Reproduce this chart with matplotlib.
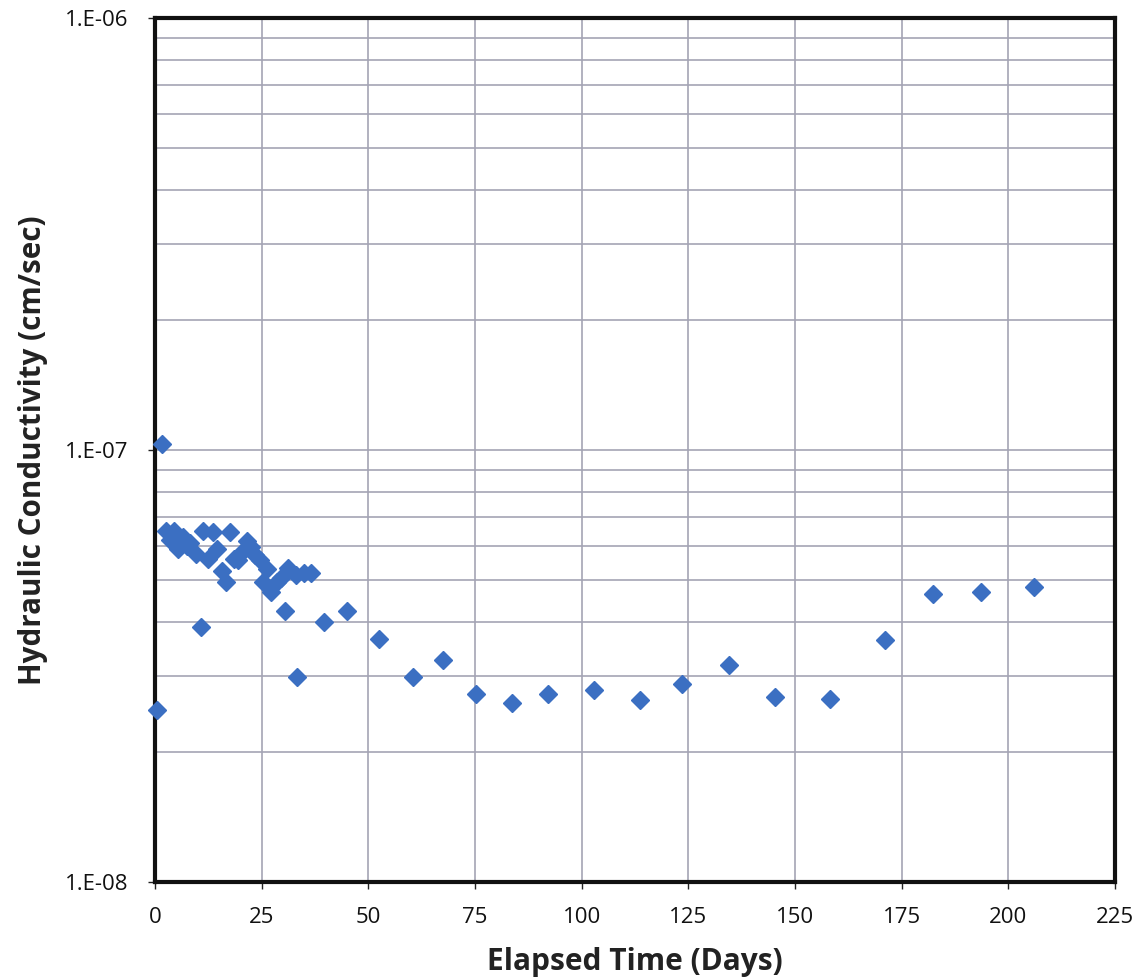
import matplotlib
matplotlib.use("Agg")
import matplotlib.pyplot as plt
from matplotlib.ticker import FixedLocator, LogLocator, NullFormatter
import numpy as np

days = [0.4, 1.6, 2.5, 3.5, 4.5, 5.5, 6.6, 7.5, 8.3, 9.5, 10.7, 11.3, 12.4, 13.5,
        14.6, 15.6, 16.6, 17.5, 18.5, 19.5, 20.5, 21.5, 22.5, 23.5, 24.5, 25.3,
        26.3, 27.3, 28.5, 29.6, 30.4, 31.1, 33.1, 33.3, 35.0, 36.6, 39.7, 44.9,
        52.6, 60.4, 67.4, 75.3, 83.7, 92.1, 102.8, 113.7, 123.6, 134.5, 145.4,
        158.3, 171.1, 182.4, 193.7, 206.0]
conductivity = [2.5e-8, 1.03e-7, 6.5e-8, 6.2e-8, 6.5e-8, 5.9e-8, 6.3e-8, 6.0e-8,
                6.1e-8, 5.75e-8, 3.9e-8, 6.5e-8, 5.6e-8, 6.45e-8, 5.9e-8, 5.25e-8,
                4.95e-8, 6.45e-8, 5.6e-8, 5.55e-8, 5.8e-8, 6.15e-8, 5.95e-8, 5.7e-8,
                5.55e-8, 4.95e-8, 5.3e-8, 4.7e-8, 4.95e-8, 5.05e-8, 4.23e-8, 5.33e-8,
                5.15e-8, 2.99e-8, 5.2e-8, 5.19e-8, 4.0e-8, 4.25e-8, 3.66e-8, 2.99e-8,
                3.26e-8, 2.72e-8, 2.59e-8, 2.72e-8, 2.78e-8, 2.64e-8, 2.87e-8, 3.18e-8,
                2.68e-8, 2.65e-8, 3.64e-8, 4.65e-8, 4.69e-8, 4.83e-8]

x_ticks = [0, 25, 50, 75, 100, 125, 150, 175, 200, 225]
y_ticks = [1e-8, 1e-7, 1e-6]
y_tick_labels = ["1.E-08", "1.E-07", "1.E-06"]
x_label = "Elapsed Time (Days)"
y_label = "Hydraulic Conductivity (cm/sec)"

plt.rcParams['font.family'] = ['Open Sans', 'DejaVu Sans']

fig = plt.figure(figsize=(11.42, 9.8), dpi=100)
ax = fig.add_axes([0.1357, 0.1, 0.8407, 0.8816])

ax.set_yscale('log')
ax.set_xlim(0, 225)
ax.set_ylim(1e-8, 1e-6)

ax.xaxis.set_major_locator(FixedLocator(x_ticks))
ax.set_xticklabels([str(t) for t in x_ticks])
ax.yaxis.set_major_locator(FixedLocator(y_ticks))
ax.set_yticklabels(y_tick_labels)
ax.yaxis.set_minor_locator(LogLocator(base=10, subs=np.arange(2, 10)))
ax.yaxis.set_minor_formatter(NullFormatter())

grid_color = '#a4a4b4'
ax.grid(True, which='major', axis='both', color=grid_color, linewidth=1.2)
ax.grid(True, which='minor', axis='y', color=grid_color, linewidth=1.2)
ax.set_axisbelow(True)

ax.tick_params(axis='x', which='major', direction='out', length=5, width=1,
               labelsize=16, colors='#222222', pad=13)
ax.tick_params(axis='y', which='major', direction='out', length=5, width=1,
               labelsize=16, colors='#222222', pad=14)
ax.tick_params(axis='y', which='minor', length=0)
for lbl in ax.get_xticklabels() + ax.get_yticklabels():
    lbl.set_color('#111111')

for s in ax.spines.values():
    s.set_linewidth(3)
    s.set_color('#111111')

ax.plot(days, conductivity, linestyle='none', marker='D', markersize=9,
        color='#3b6fc2', markeredgecolor='#3b6fc2', zorder=3, clip_on=False)

ax.set_xlabel(x_label, fontsize=21.5, fontweight='bold', color='#222222', labelpad=14)
ax.set_ylabel(y_label, fontsize=21.3, fontweight='bold', color='#222222', labelpad=12)

fig.savefig('out.png', dpi=100)
